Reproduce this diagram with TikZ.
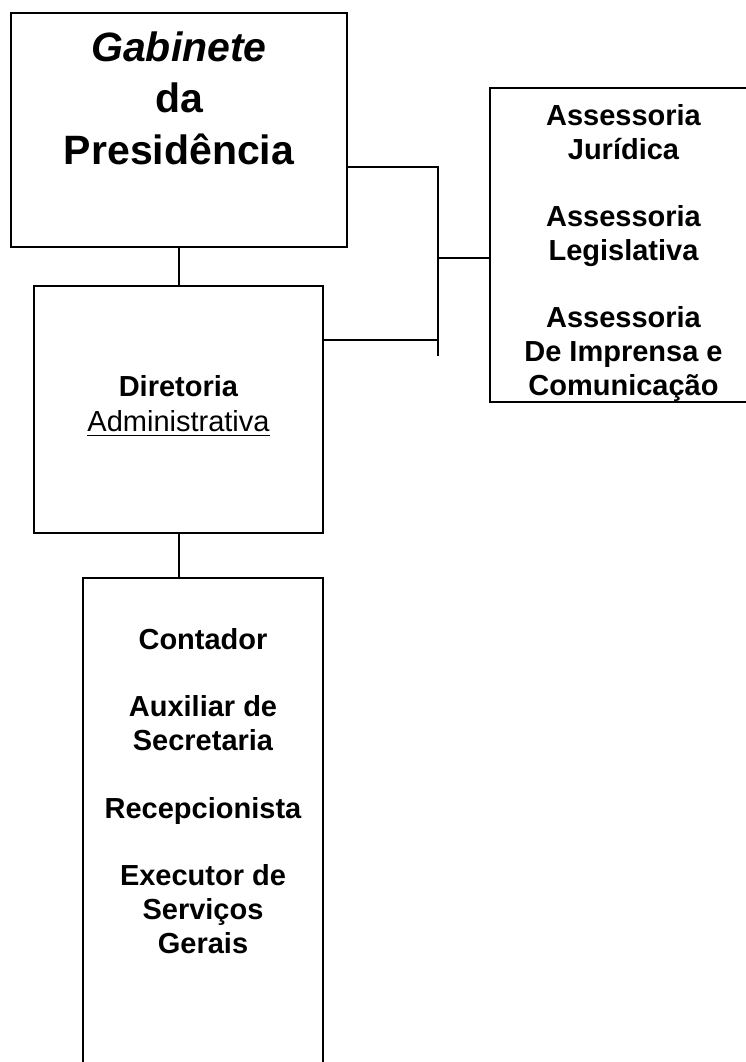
\documentclass[tikz,border=0pt]{standalone}
\usepackage{fontspec}
\setmainfont{Liberation Sans}
\newcommand\myul[1]{\setbox0\hbox{#1}\rlap{\rule[-4.8pt]{\wd0}{1.8pt}}\box0}
\begin{document}
\begin{tikzpicture}[x=1pt,y=-1pt,
  box/.style={draw=black,line width=1.6pt,rectangle,inner sep=0pt,outer sep=0pt,fill=none},
  txt/.style={align=center,inner sep=0pt,outer sep=0pt,font=\bfseries},
  conn/.style={draw=black,line width=1.6pt,line cap=rect}]
\useasboundingbox (0,0) rectangle (746,1062);
% boxes
\node[box,minimum width=336pt,minimum height=234pt] (gab) at (179,130) {};
\node[box,minimum width=289pt,minimum height=247pt] (dir) at (178.5,409.5) {};
\node[box,minimum width=240pt,minimum height=510pt] (low) at (203,833) {};
\node[box,minimum width=267pt,minimum height=314pt] (ass) at (623.5,245) {};
% texts
\node[txt,font=\fontsize{41}{51.5}\selectfont\bfseries] (gabt) at (179,98)
  {\textit{Gabinete}\\da\\Presidência};
\node[txt,font=\fontsize{29}{35}\selectfont] (dirt) at (178.5,406)
  {\textbf{Diretoria}\\\myul{Administrativa}};
\node[txt,font=\fontsize{29}{34}\selectfont\bfseries] (asst) at (623.5,252.5)
  {Assessoria\\Jurídica\\[33pt]Assessoria\\Legislativa\\[33pt]Assessoria\\De Imprensa e\\Comunicação};
\node[txt,font=\fontsize{29}{34}\selectfont\bfseries] (lowt) at (203,791)
  {Contador\\[33pt]Auxiliar de\\Secretaria\\[34pt]Recepcionista\\[33pt]Executor de\\Serviços\\Gerais};
% junction coordinates
\coordinate (j1) at (438,167);
\coordinate (j2) at (438,355);
\coordinate (j3) at (438,258);
\coordinate (j4) at (438,340);
% connectors
\draw[conn] (gab.south) -- (gab.south |- dir.north);
\draw[conn] (dir.south -| gab.south) -- (low.north -| gab.south);
\draw[conn] (gab.east |- j1) -- (j1) -- (j2);
\draw[conn] (j3) -- (ass.west |- j3);
\draw[conn] (dir.east |- j4) -- (j4);
\end{tikzpicture}
\end{document}
